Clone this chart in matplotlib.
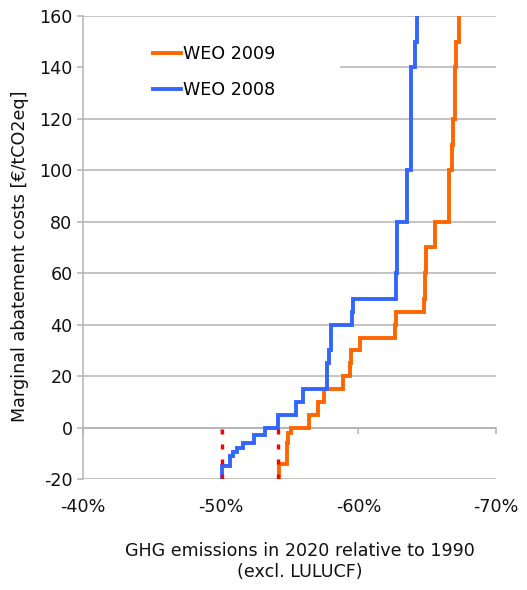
"""Marginal abatement cost curves, WEO 2008 vs WEO 2009."""
import matplotlib
matplotlib.use("Agg")
import matplotlib.pyplot as plt
from matplotlib.patches import Rectangle

# reduction in 2020 vs 1990 (%) at which each cost step happens, and the cost level before it
weo08_reduction = [50.1, 50.7, 50.9, 51.2, 51.6, 52.4, 53.2, 54.2, 55.5, 56.0, 57.7, 57.85,
                   58.05, 59.55, 59.6, 62.7, 62.8, 63.5, 63.8, 63.85, 64.15, 64.25, 64.25]
weo08_cost = [-20, -15, -11, -9.5, -8, -6, -3, 0, 5, 10, 15, 25,
              30, 40, 45, 50, 60, 80, 100, 120, 140, 150, 165]

weo09_reduction = [54.25, 54.8, 54.9, 55.1, 56.4, 57.1, 57.5, 58.85, 59.4, 59.5, 60.1, 62.65,
                   62.7, 64.8, 64.85, 64.95, 65.6, 66.6, 66.8, 66.9, 67.0, 67.13, 67.33, 67.33]
weo09_cost = [-20, -14, -6, -2, 0, 5, 10, 15, 20, 25, 30, 35,
              40, 45, 50, 60, 70, 80, 100, 110, 120, 140, 150, 165]

targets = [50.1, 54.2]          # red dotted markers below zero cost
xticks = [-40, -50, -60, -70]
yticks = list(range(-20, 161, 20))

BLUE, ORANGE, GRID = "#3366ff", "#ff6600", "#b3b3b3"
plt.rcParams["font.family"] = ["DejaVu Sans"]
plt.rcParams["axes.unicode_minus"] = False
FS = 12.6

fig = plt.figure(figsize=(5.27, 5.90), dpi=100)
ax = fig.add_axes([83 / 527, 1 - 479 / 590, (496 - 83) / 527, (479 - 16) / 590])

ax.step([-v for v in weo09_reduction], weo09_cost, where="pre", color=ORANGE, lw=2.8,
        label="WEO 2009", zorder=4, solid_joinstyle="miter")
ax.step([-v for v in weo08_reduction], weo08_cost, where="pre", color=BLUE, lw=2.8,
        label="WEO 2008", zorder=4, solid_joinstyle="miter")
for t in targets:
    ax.plot([-t, -t], [-20, 0], color="#ff0000", lw=2.4, ls=(0, (1.5, 3.0)),
            solid_capstyle="butt", dash_capstyle="butt", zorder=5)

ax.set_xlim(-40, -70)
ax.set_ylim(-20, 160)
ax.set_yticks(yticks)
ax.set_xticks(xticks)
ax.yaxis.grid(True, color=GRID, lw=1.1, zorder=1)
ax.set_axisbelow(True)

for s in ("top", "right"):
    ax.spines[s].set_visible(False)
ax.spines["left"].set_color(GRID)
ax.spines["left"].set_linewidth(1.1)
ax.spines["bottom"].set_position(("data", 0))
ax.spines["bottom"].set_color(GRID)
ax.spines["bottom"].set_linewidth(1.1)
ax.tick_params(axis="y", length=4.5, width=1.1, color=GRID, labelsize=FS, pad=3, labelcolor="#111111")
ax.tick_params(axis="x", length=4.5, width=1.1, color=GRID, labelbottom=False)

sec = ax.secondary_xaxis(0)
sec.set_xticks(xticks)
sec.set_xticklabels([f"{v}%" for v in xticks])
sec.tick_params(length=0, labelsize=FS, pad=14, labelcolor="#111111")
sec.spines["bottom"].set_visible(False)

# white legend background hiding the 140 gridline
ax.add_patch(Rectangle((-40, 125), -18.66, 30, facecolor="white", edgecolor="none", zorder=2))
ax.legend(loc="upper left", bbox_to_anchor=(0.152, 0.953), frameon=False, fontsize=FS,
          handlelength=1.6, handletextpad=0.15, labelspacing=1.05, borderaxespad=0)

fig.text(300 / 527, 1 - 542 / 590, "GHG emissions in 2020 relative to 1990\n(excl. LULUCF)",
         ha="center", va="top", fontsize=FS, color="#111111", linespacing=1.2)
fig.text(20 / 527, 1 - 256 / 590, "Marginal abatement costs [€/tCO2eq]", rotation=90,
         ha="center", va="center", fontsize=FS, color="#111111")

fig.savefig("out.png", dpi=100)
